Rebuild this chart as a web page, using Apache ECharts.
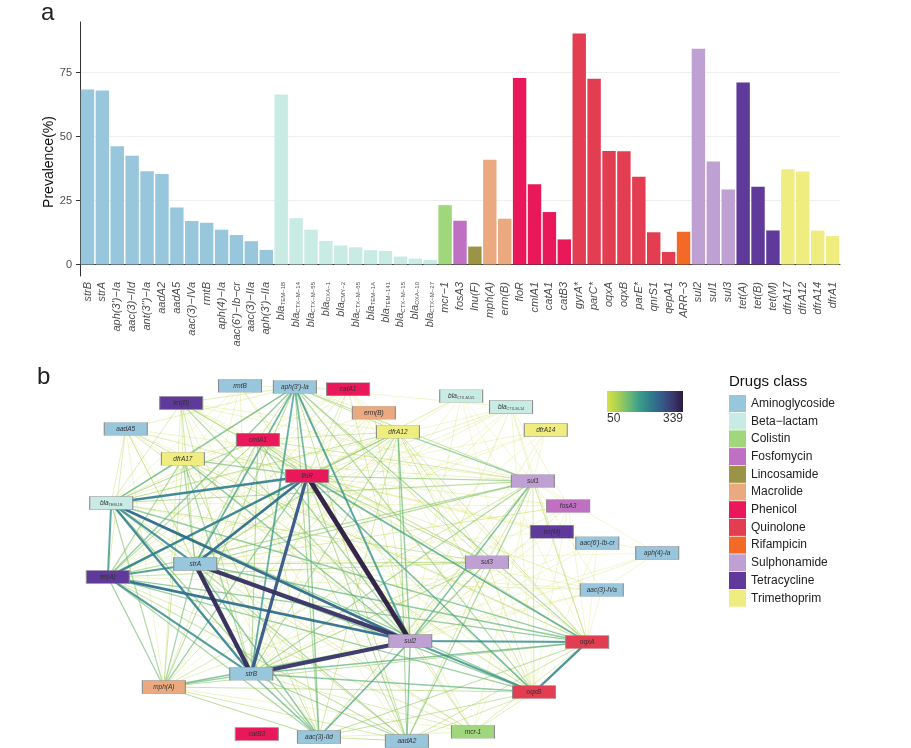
<!DOCTYPE html>
<html><head><meta charset="utf-8">
<script src="https://cdn.jsdelivr.net/npm/echarts@6/dist/echarts.min.js"></script>
<style>html,body{margin:0;padding:0;background:#fff}#c{width:911px;height:748px}</style>
</head><body><div id="c"></div>
<script>
const FONT = 'Liberation Sans, Arial, sans-serif';
const classNames = ['Aminoglycoside','Beta−lactam','Colistin','Fosfomycin','Lincosamide','Macrolide','Phenicol','Quinolone','Rifampicin','Sulphonamide','Tetracycline','Trimethoprim'];
const classColors = ['#98c6dd','#c8ebe4','#a0d67c','#c070c2','#9b9446','#eba97f','#e8185b','#e33d51','#f26a25','#bfa0d2','#5f3a9b','#f0ed80'];

// Panel a
const genes = ['strB','strA',"aph(3')−Ia",'aac(3)−IId',"ant(3'')−Ia",'aadA2','aadA5','aac(3)−IVa','rmtB','aph(4)−Ia',"aac(6')−Ib−cr",'aac(3)−IIa',"aph(3')−IIa",
 'bla_TEM−1B','bla_CTX−M−14','bla_CTX−M−55','bla_OXA−1','bla_CMY−2','bla_CTX−M−65','bla_TEM−1A','bla_TEM−141','bla_CTX−M−15','bla_OXA−10','bla_CTX−M−27',
 'mcr−1','fosA3','lnu(F)','mph(A)','erm(B)','floR','cmlA1','catA1','catB3','gyrA*','parC*','oqxA','oqxB','parE*','qnrS1','qepA1','ARR−3',
 'sul2','sul1','sul3','tet(A)','tet(B)','tet(M)','dfrA17','dfrA12','dfrA14','dfrA1'];
const prevalence = [68.4,68.0,46.2,42.5,36.5,35.4,22.3,17.0,16.3,13.6,11.5,9.1,5.7,
 66.5,18.1,13.6,9.2,7.4,6.7,5.6,5.3,3.1,2.3,1.8,
 23.2,17.1,7.0,40.9,17.9,72.9,31.4,20.5,9.8,90.3,72.6,44.4,44.3,34.3,12.6,4.9,12.8,
 84.3,40.3,29.3,71.1,30.4,13.3,37.2,36.4,13.3,11.1];
const geneClass = [0,0,0,0,0,0,0,0,0,0,0,0,0,
 1,1,1,1,1,1,1,1,1,1,1,
 2,3,4,5,5,6,6,6,6,7,7,7,7,7,7,7,8,
 9,9,9,10,10,10,11,11,11,11];
const yTicks = [0,25,50,75];

// Panel b
const netNodes = ['rmtB',"aph(3')-Ia",'catA1','tet(B)','erm(B)','blaCTX-M-55','blaCTX-M-14','dfrA14','aadA5','cmlA1','dfrA12','dfrA17','floR','sul1','blaTEM-1B','fosA3','tet(M)',"aac(6')-Ib-cr",'aph(4)-Ia','strA','sul3','tet(A)','aac(3)-IVa','sul2','oqxA','strB','mph(A)','oqxB','catB3','aac(3)-IId','aadA2','mcr-1'];
const netClass = [0,0,6,10,5,1,1,11,0,6,11,11,6,9,1,3,10,0,0,0,9,10,0,9,7,0,5,7,6,0,0,2];
const netX = [25.0,34.8,44.3,14.5,48.9,64.5,73.4,79.6,4.6,28.2,53.2,14.8,37.0,77.3,2.0,83.6,80.7,88.8,99.5,17.0,69.1,1.4,89.6,55.4,87.0,27.0,11.4,77.5,28.0,39.1,54.8,66.6];
const netY = [1.6,1.9,2.5,6.3,9.0,4.4,7.4,13.7,13.4,16.4,14.2,21.6,26.3,27.7,33.7,34.5,41.6,44.7,47.4,50.4,49.9,54.0,57.5,71.5,71.8,80.5,84.1,85.5,97.0,97.8,98.9,96.4];
const netLinks = [
 ['sul2','floR',339],['sul2','strA',310],['sul2','strB',305],['sul2','blaTEM-1B',240],['sul2','tet(A)',230],['sul2','oqxA',195],['sul2','oqxB',190],['sul2',"aph(3')-Ia",185],['sul2','aac(3)-IId',160],['sul2','sul1',155],['sul2','mph(A)',150],['sul2','aadA2',145],['sul2','dfrA12',140],['sul2','dfrA17',140],['sul2','cmlA1',130],['sul2','sul3',125],['sul2','tet(B)',115],['sul2','mcr-1',90],['sul2','aadA5',90],['sul2','catA1',80],['sul2','erm(B)',75],['sul2','rmtB',70],['sul2','fosA3',70],['sul2','blaCTX-M-14',70],['sul2','aac(3)-IVa',65],['sul2','blaCTX-M-55',60],['sul2','dfrA14',60],['sul2','aph(4)-Ia',60],['sul2','tet(M)',55],['sul2',"aac(6')-Ib-cr",55],
 ['floR','strB',265],['floR','strA',235],['floR','blaTEM-1B',215],['floR','tet(A)',215],['floR',"aph(3')-Ia",165],['floR','oqxA',165],['floR','oqxB',160],['floR','aac(3)-IId',140],['floR','mph(A)',135],['floR','dfrA17',130],['floR','cmlA1',120],['floR','dfrA12',120],['floR','sul1',120],['floR','sul3',110],['floR','aadA2',110],['floR','tet(B)',105],['floR','mcr-1',85],['floR','catA1',85],['floR','aadA5',85],['floR','erm(B)',70],['floR','blaCTX-M-14',70],['floR','aac(3)-IVa',70],['floR','rmtB',65],['floR','fosA3',65],['floR','blaCTX-M-55',60],['floR','dfrA14',55],['floR','tet(M)',55],['floR','aph(4)-Ia',55],['floR',"aac(6')-Ib-cr",55],
 ['strA','strB',320],['strA','blaTEM-1B',200],['strA','tet(A)',190],['strA',"aph(3')-Ia",170],['strA','aac(3)-IId',145],['strA','oqxA',145],['strA','oqxB',140],['strA','mph(A)',130],['strA','dfrA17',125],['strA','sul1',120],['strA','aadA2',115],['strA','cmlA1',115],['strA','dfrA12',110],['strA','sul3',105],['strA','tet(B)',95],['strA','mcr-1',80],['strA','aadA5',80],['strA','catA1',70],['strA','erm(B)',65],['strA','rmtB',60],['strA','fosA3',60],['strA','blaCTX-M-14',60],['strA','aac(3)-IVa',60],['strA','blaCTX-M-55',55],['strA','dfrA14',55],['strA','tet(M)',50],['strA','aph(4)-Ia',50],
 ['strB','blaTEM-1B',210],['strB','tet(A)',195],['strB',"aph(3')-Ia",175],['strB','aac(3)-IId',150],['strB','oqxA',150],['strB','oqxB',145],['strB','mph(A)',135],['strB','dfrA17',125],['strB','sul1',120],['strB','aadA2',120],['strB','cmlA1',115],['strB','dfrA12',110],['strB','sul3',105],['strB','tet(B)',95],['strB','mcr-1',80],['strB','aadA5',80],['strB','catA1',70],['strB','erm(B)',65],['strB','rmtB',60],['strB','fosA3',60],['strB','blaCTX-M-14',60],['strB','aac(3)-IVa',60],['strB','blaCTX-M-55',55],['strB','dfrA14',55],['strB','tet(M)',50],['strB','aph(4)-Ia',50],['strB',"aac(6')-Ib-cr",50],
 ['blaTEM-1B','tet(A)',185],['blaTEM-1B',"aph(3')-Ia",145],['blaTEM-1B','oqxA',140],['blaTEM-1B','oqxB',135],['blaTEM-1B','aac(3)-IId',125],['blaTEM-1B','mph(A)',120],['blaTEM-1B','dfrA17',120],['blaTEM-1B','cmlA1',110],['blaTEM-1B','sul1',110],['blaTEM-1B','dfrA12',100],['blaTEM-1B','sul3',95],['blaTEM-1B','aadA2',95],['blaTEM-1B','tet(B)',85],['blaTEM-1B','mcr-1',80],['blaTEM-1B','aadA5',75],['blaTEM-1B','catA1',65],['blaTEM-1B','erm(B)',60],['blaTEM-1B','fosA3',60],['blaTEM-1B','aac(3)-IVa',60],['blaTEM-1B','rmtB',55],['blaTEM-1B','blaCTX-M-14',55],
 ['tet(A)',"aph(3')-Ia",140],['tet(A)','oqxA',140],['tet(A)','oqxB',135],['tet(A)','mph(A)',130],['tet(A)','aac(3)-IId',125],['tet(A)','dfrA17',120],['tet(A)','cmlA1',110],['tet(A)','sul1',110],['tet(A)','dfrA12',105],['tet(A)','aadA2',105],['tet(A)','sul3',100],['tet(A)','mcr-1',85],['tet(A)','aadA5',80],['tet(A)','catA1',70],['tet(A)','blaCTX-M-14',65],['tet(A)','aac(3)-IVa',65],['tet(A)','erm(B)',60],['tet(A)','fosA3',60],['tet(A)','rmtB',55],['tet(A)','blaCTX-M-55',55],['tet(A)','dfrA14',55],
 ['oqxA','oqxB',205],['oqxA',"aph(3')-Ia",120],['oqxA','mph(A)',105],['oqxA','aac(3)-IId',105],['oqxA','aadA2',95],['oqxA','sul1',95],['oqxA','dfrA17',95],['oqxA','dfrA12',90],['oqxA','cmlA1',85],['oqxA','sul3',80],['oqxA','mcr-1',80],['oqxA','tet(B)',70],['oqxA','catA1',60],['oqxA','aadA5',60],['oqxA','blaCTX-M-14',55],['oqxA','erm(B)',55],['oqxA','fosA3',55],['oqxA','aac(3)-IVa',55],['oqxA','blaCTX-M-55',50],['oqxA',"aac(6')-Ib-cr",50],
 ['oqxB',"aph(3')-Ia",115],['oqxB','mph(A)',100],['oqxB','aac(3)-IId',100],['oqxB','aadA2',90],['oqxB','sul1',90],['oqxB','dfrA17',90],['oqxB','dfrA12',90],['oqxB','cmlA1',85],['oqxB','sul3',80],['oqxB','mcr-1',80],['oqxB','tet(B)',70],['oqxB','catA1',55],['oqxB','aadA5',55],['oqxB','blaCTX-M-14',55],['oqxB','fosA3',55],['oqxB','blaCTX-M-55',50],['oqxB',"aac(6')-Ib-cr",50],
 ["aph(3')-Ia",'aac(3)-IId',115],["aph(3')-Ia",'mph(A)',110],["aph(3')-Ia",'sul1',105],["aph(3')-Ia",'dfrA12',100],["aph(3')-Ia",'dfrA17',100],["aph(3')-Ia",'aadA2',100],["aph(3')-Ia",'sul3',95],["aph(3')-Ia",'cmlA1',95],["aph(3')-Ia",'tet(B)',80],["aph(3')-Ia",'catA1',70],["aph(3')-Ia",'aadA5',70],["aph(3')-Ia",'mcr-1',70],["aph(3')-Ia",'erm(B)',60],["aph(3')-Ia",'blaCTX-M-14',60],["aph(3')-Ia",'rmtB',55],
 ['sul1','dfrA12',135],['sul1','aadA2',125],['sul1','aac(3)-IId',100],['sul1','sul3',90],['sul1','mph(A)',90],['sul1','cmlA1',90],['sul1','dfrA17',70],['sul1','tet(B)',65],['sul1','mcr-1',60],['sul1','aadA5',60],['sul1','fosA3',55],['sul1','blaCTX-M-14',55],['sul1','aac(3)-IVa',55],['sul1','blaCTX-M-55',50],['sul1','aph(4)-Ia',50],['sul1','tet(M)',50],['sul1','dfrA14',50],
 ['mph(A)','aac(3)-IId',110],['mph(A)','dfrA17',95],['mph(A)','aadA2',90],['mph(A)','dfrA12',85],['mph(A)','cmlA1',80],['mph(A)','sul3',75],['mph(A)','tet(B)',70],['mph(A)','mcr-1',65],['mph(A)','aadA5',60],['mph(A)','erm(B)',55],['mph(A)','blaCTX-M-14',50],
 ['aac(3)-IId','aadA2',100],['aac(3)-IId','dfrA17',100],['aac(3)-IId','dfrA12',90],['aac(3)-IId','cmlA1',85],['aac(3)-IId','sul3',85],['aac(3)-IId','mcr-1',70],['aac(3)-IId','tet(B)',65],['aac(3)-IId','aadA5',60],
 ['dfrA12','aadA2',120],['dfrA12','cmlA1',90],['dfrA12','sul3',85],['dfrA12','tet(B)',60],
 ['dfrA17','aadA5',95],['dfrA17','tet(B)',75],['dfrA17','cmlA1',70],
 ['cmlA1','sul3',100],['cmlA1','aadA2',95],['cmlA1','catA1',60],['cmlA1','tet(B)',55],
 ['sul3','aadA2',85],['sul3','catA1',60],['sul3','tet(B)',60],['sul3','dfrA14',50],
 ['aadA2','tet(B)',60],['catA1','dfrA12',55],['aac(3)-IVa','aph(4)-Ia',55],
 ['fosA3','blaCTX-M-14',55],['fosA3','mcr-1',50]
];
const weightMin = 50, weightMax = 339;
const edgePalette = ['#d8df48','#a8d151','#6cbb73','#3c9c8a','#2f7d8c','#345d8b','#3b3b72','#2a1a40'];

const chart = echarts.init(document.getElementById('c'), null, {renderer:'canvas'});

const barData = genes.map((g,i)=>({value:prevalence[i], itemStyle:{color:classColors[geneClass[i]]}}));
const links = netLinks.slice().sort((a,b)=>a[2]-b[2]).map(l=>{
  const t = (l[2]-weightMin)/(weightMax-weightMin);
  return {source:l[0], target:l[1], value:l[2],
    lineStyle:{color:echarts.color.lerp(t, edgePalette), width:0.6+1.8*t+2.4*t*t, opacity:0.4+0.55*Math.min(1,t*1.6)}};
});
const nodes = netNodes.map((n,i)=>({name:n, value:[netX[i],netY[i]], category:netClass[i]}));

const option = {
  animation:false,
  textStyle:{fontFamily:FONT},
  grid:[
    {left:80, top:22, width:760, height:254},
    {left:100, top:380, width:560, height:365}
  ],
  xAxis:[
    {type:'category', gridIndex:0, data:genes,
     axisLine:{lineStyle:{color:'#333', width:1}},
     axisTick:{alignWithLabel:true, length:4, lineStyle:{color:'#333'}},
     axisLabel:{rotate:90, interval:0, margin:6, fontSize:11, fontStyle:'italic', color:'#4d4d4d', fontFamily:FONT,
       formatter:v=> v.indexOf('bla_')===0 ? 'bla{s|'+v.slice(4)+'}' : v,
       rich:{s:{fontSize:6, fontStyle:'normal', color:'#4d4d4d', verticalAlign:'bottom', fontFamily:FONT}}},
     splitLine:{show:false}},
    {type:'value', gridIndex:1, min:0, max:100, show:false}
  ],
  yAxis:[
    {type:'value', gridIndex:0, min:-4.5, max:94.8,
     axisLine:{show:true, lineStyle:{color:'#333', width:1}},
     axisTick:{show:true, length:4, customValues:yTicks, lineStyle:{color:'#333'}},
     axisLabel:{customValues:yTicks, margin:8, fontSize:11, color:'#4d4d4d', fontFamily:FONT},
     splitLine:{show:true, lineStyle:{color:'#ebebeb', width:0.8}}},
    {type:'value', gridIndex:1, min:0, max:100, inverse:true, show:false}
  ],
  legend:{
    data:classNames, orient:'vertical', left:729, top:395, padding:0,
    itemWidth:17, itemHeight:17, itemGap:0.7, icon:'rect', selectedMode:false,
    itemStyle:{borderWidth:0},
    textStyle:{fontSize:12, color:'#222', fontFamily:FONT}
  },
  series:[
    {type:'bar', xAxisIndex:0, yAxisIndex:0, data:barData, barCategoryGap:'10%', silent:true},
    {type:'graph', coordinateSystem:'cartesian2d', xAxisIndex:1, yAxisIndex:1, silent:true,
     symbol:'rect', symbolSize:[43,13],
     categories:classNames.map((n,i)=>({name:n, itemStyle:{color:classColors[i]}})),
     data:nodes, links:links,
     itemStyle:{borderColor:'#8c8c8c', borderWidth:0.6},
     label:{show:true, position:'inside', fontSize:6.5, fontStyle:'italic', color:'#333', fontFamily:FONT,
       formatter:p=> p.name.indexOf('bla')===0 ? 'bla{s|'+p.name.slice(3)+'}' : p.name,
       rich:{s:{fontSize:3.8, fontStyle:'normal', color:'#444', verticalAlign:'bottom'}}},
     emphasis:{disabled:true}}
  ],
  graphic:[
    {type:'text', left:41, top:1, style:{text:'a', fill:'#222', font:'24px '+FONT}},
    {type:'text', left:37, top:365, style:{text:'b', fill:'#222', font:'24px '+FONT}},
    {type:'text', x:49, y:162, rotation:Math.PI/2, style:{text:'Prevalence(%)', font:'14px '+FONT, fill:'#111', align:'center', verticalAlign:'middle'}},
    {type:'text', left:729, top:374, style:{text:'Drugs class', font:'15px '+FONT, fill:'#111'}},
    {type:'rect', shape:{x:607, y:391, width:76, height:21},
     style:{fill:new echarts.graphic.LinearGradient(0,0,1,0, edgePalette.map((c,i)=>({offset:i/(edgePalette.length-1), color:c})))}},
    {type:'text', x:607, y:413, style:{text:String(weightMin), font:'12px '+FONT, fill:'#333', align:'left', verticalAlign:'top'}},
    {type:'text', x:683, y:413, style:{text:String(weightMax), font:'12px '+FONT, fill:'#333', align:'right', verticalAlign:'top'}}
  ]
};
chart.setOption(option);
</script>
</body></html>
